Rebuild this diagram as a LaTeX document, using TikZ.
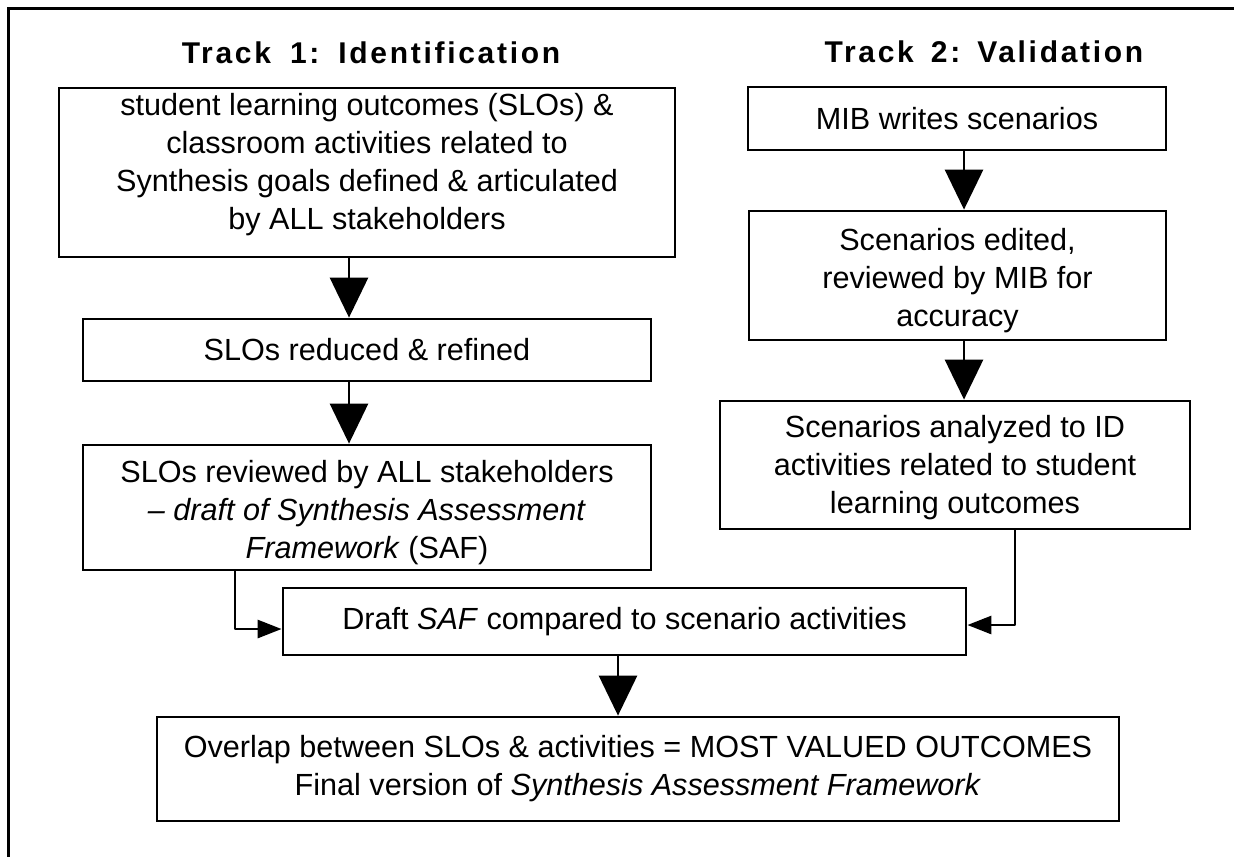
\documentclass[tikz,border=0pt]{standalone}
\usepackage{fontspec}
\setmainfont{Liberation Sans}
\newfontfamily\trackfont[LetterSpace=9]{Liberation Sans}
\usetikzlibrary{arrows.meta,calc}
% invisible struts that pad a text block above or below
\newcommand\padtop[1]{\rule{0pt}{#1}}
\newcommand\padbot[1]{\rule[-#1]{0pt}{#1}}

\begin{document}
\begin{tikzpicture}[x=0.5pt,y=-0.5pt,
  every node/.style={inner sep=0pt},
  stage/.style={draw, line width=1.4pt, align=center,
    font=\fontsize{15.3}{19}\selectfont},
  track/.style={anchor=base, font=\trackfont\bfseries\fontsize{15}{17}\selectfont},
  flow/.style={line width=1.4pt, -{Triangle[length=20pt,width=19pt]}},
  feed/.style={line width=1.4pt, line join=round, -{Triangle[length=12pt,width=9pt]}},
]
\useasboundingbox (0,0) rectangle (1234,857);

% outer frame (top and left edges)
\draw[line width=1.5pt] (1234,8) -- (8,8) -- (8,857);

% track headings
\node[track] (head1) at (371,63) {Track\hspace{9.5pt}1:\hspace{9.5pt}Identification};
\node[track] (head2) at (984,62) {Track\hspace{8.5pt}2:\hspace{8.5pt}Validation};

% track 1
\node[stage, minimum width=308pt, minimum height=84.5pt] (slo1) at (367,172.5)
  {student learning outcomes (SLOs) \&\\classroom activities related to\\Synthesis goals defined \& articulated\\by ALL stakeholders\padbot{11pt}};
\node[stage, minimum width=284pt, minimum height=31pt] (slo2) at (367,350)
  {SLOs reduced \& refined};
\node[stage, minimum width=284pt, minimum height=62.5pt] (slo3) at (367,507.5)
  {\padtop{16pt}SLOs reviewed by ALL stakeholders\\\textit{-- draft of Synthesis Assessment}\\\textit{Framework} (SAF)};

% track 2
\node[stage, minimum width=209pt, minimum height=31.5pt] (mib) at (957,118.5)
  {MIB writes scenarios};
\node[stage, minimum width=208.5pt, minimum height=64.5pt] (edit) at (957.5,275.5)
  {\padtop{16pt}Scenarios edited,\\reviewed by MIB for\\accuracy};
\node[stage, minimum width=235pt, minimum height=64pt] (anal) at (955,465)
  {\padtop{14pt}Scenarios analyzed to ID\\activities related to student\\learning outcomes};

% merge
\node[stage, minimum width=341.5pt, minimum height=33.5pt] (draft) at (624.5,621.5)
  {Draft \textit{SAF} compared to scenario activities};
\node[stage, minimum width=481pt, minimum height=52pt] (final) at (638,769)
  {Overlap between SLOs \& activities = MOST VALUED OUTCOMES\\Final version of \textit{Synthesis Assessment Framework}};

% connector lanes
\coordinate (lane1) at (349,0);
\coordinate (lane2) at (964,0);
\coordinate (lane3) at (618,0);
\coordinate (leftfeed) at (235,629);
\coordinate (rightfeed) at (1015,625);

\draw[flow] (slo1.south -| lane1) -- (slo2.north -| lane1);
\draw[flow] (slo2.south -| lane1) -- (slo3.north -| lane1);
\draw[flow] (mib.south -| lane2) -- (edit.north -| lane2);
\draw[flow] (edit.south -| lane2) -- (anal.north -| lane2);
\draw[flow] (draft.south -| lane3) -- (final.north -| lane3);
\draw[feed] (slo3.south -| leftfeed) |- (draft.west |- leftfeed);
\draw[feed] (anal.south -| rightfeed) |- (draft.east |- rightfeed);
\end{tikzpicture}
\end{document}
